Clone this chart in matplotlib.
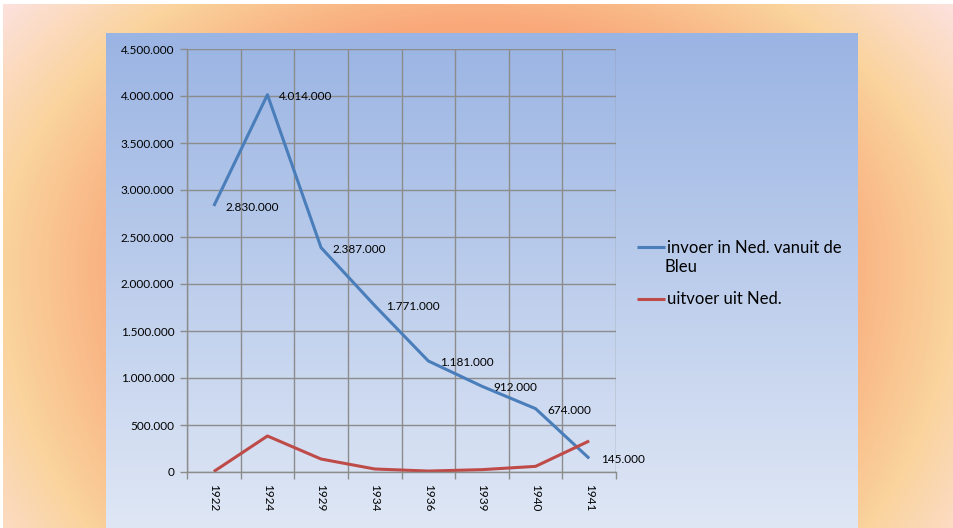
import numpy as np
import matplotlib
matplotlib.use('Agg')  # no display
import matplotlib.pyplot as plt
from matplotlib.colors import LinearSegmentedColormap
from matplotlib.ticker import FuncFormatter, MultipleLocator

plt.rcParams['font.family'] = ['Lato', 'DejaVu Sans']

# data
years = ['1922', '1924', '1929', '1934', '1936', '1939', '1940', '1941']
invoer = [2830000, 4014000, 2387000, 1771000, 1181000, 912000, 674000, 145000]
uitvoer = [5000, 383000, 138000, 32000, 10000, 25000, 60000, 330000]
label_invoer = 'invoer in Ned. vanuit de'
label_invoer_2 = 'Bleu'
label_uitvoer = 'uitvoer uit Ned.'

W, H = 954, 528
fig = plt.figure(figsize=(W / 100, H / 100), dpi=100)

# outer orange/yellow elliptical gradient
bg = fig.add_axes([0, 0, 1, 1])
bg.set_axis_off()
xx, yy = np.meshgrid(np.arange(W), np.arange(H))
b = np.where(yy < 264, 330.0, 450.0)
t = np.sqrt(((xx - 477) / 470.0) ** 2 + ((yy - 264) / b) ** 2)
outer_cmap = LinearSegmentedColormap.from_list(
    'outer', [(0, '#F9A274'), (0.55, '#F9A97B'), (0.76, '#FAD39C'), (1.0, '#FDE4EA')])
bg.imshow(np.clip(t / 1.33, 0, 1), cmap=outer_cmap, vmin=0, vmax=1,
          extent=[0, W, H, 0], aspect='auto', interpolation='bilinear')
bg.set_xlim(0, W)
bg.set_ylim(H, 0)
# thin white border at the top/left edge
bg.axhspan(0, 4, color='white', lw=0)
bg.axvspan(0, 3, color='white', lw=0)

# blue chart panel
panel = fig.add_axes([106 / W, 0, (858 - 106) / W, (528 - 33) / H])
panel.set_axis_off()
panel_cmap = LinearSegmentedColormap.from_list('panel', ['#9AB4E3', '#DFE7F5'])
panel.imshow(np.linspace(0, 1, 256).reshape(-1, 1), cmap=panel_cmap,
             extent=[0, 1, 0, 1], aspect='auto', interpolation='bilinear')

# plot area
ax = fig.add_axes([187 / W, (H - 472) / H, (616 - 187) / W, (472 - 49) / H])
ax.set_facecolor('none')
x = np.arange(len(years))
blue = '#4A7EBB'
red = '#BE4B48'
l1, = ax.plot(x, invoer, color=blue, lw=2.2, solid_capstyle='butt')
l2, = ax.plot(x, uitvoer, color=red, lw=2.2, solid_capstyle='butt')

for xi, v in zip(x, invoer):
    ax.annotate(f'{v:,}'.replace(',', '.'), (xi, v), xytext=(8.5, -1),
                textcoords='offset points', ha='left', va='center',
                fontsize=8.5, color='black')

ax.set_xlim(-0.5, len(years) - 0.5)
ax.set_ylim(0, 4500000)
ax.yaxis.set_major_locator(MultipleLocator(500000))
ax.yaxis.set_major_formatter(FuncFormatter(lambda v, p: f'{v:,.0f}'.replace(',', '.')))

ax.set_xticks(x)
ax.set_xticklabels(years, rotation=-90, fontsize=8.5)
ax.set_xticks(np.arange(len(years) + 1) - 0.5, minor=True)
ax.tick_params(axis='x', which='major', length=0, pad=9)
ax.tick_params(axis='x', which='minor', length=5, color='#8C8C8C', width=1)
ax.tick_params(axis='y', length=5, color='#8C8C8C', width=1, labelsize=8.5, pad=4)

ax.grid(True, axis='y', which='major', color='#8C8C8C', lw=1)
ax.grid(True, axis='x', which='minor', color='#8C8C8C', lw=1)
ax.set_axisbelow(True)
for s in ['top', 'right']:
    ax.spines[s].set_visible(False)
for s in ['left', 'bottom']:
    ax.spines[s].set_color('#8C8C8C')
    ax.spines[s].set_linewidth(1)

leg = fig.legend([l1, l2], [label_invoer, label_uitvoer], loc='upper left',
                 bbox_to_anchor=(630 / W, (H - 233) / H), frameon=False,
                 fontsize=12, handlelength=1.7, handletextpad=0.15,
                 labelspacing=2.15, borderaxespad=0)
# second line of the first legend label
fig.text(664 / W, 1 - 267 / H, label_invoer_2, ha='left', va='center', fontsize=12)

fig.savefig('out.png', dpi=100)
